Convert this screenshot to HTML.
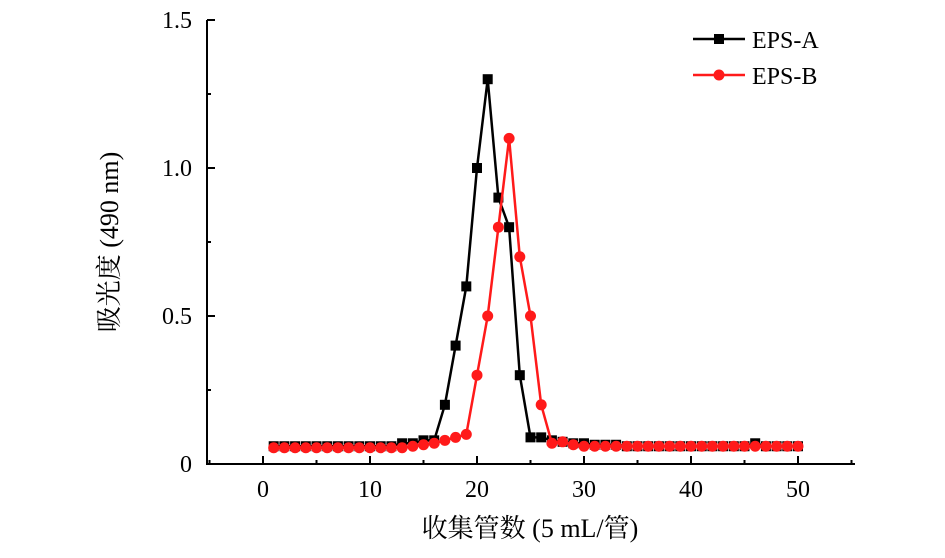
<!DOCTYPE html>
<html><head><meta charset="utf-8"><style>
body{margin:0;background:#fff}
svg text{font-family:"Liberation Serif","Noto Serif CJK SC",serif;font-size:24px;fill:#000}
svg text.ttl{font-size:26px}
</style></head><body>
<svg id="c" width="945" height="553"></svg>
<script>
const tubes=[];for(let i=1;i<=50;i++)tubes.push(i);
const epsA=[0.06,0.06,0.06,0.06,0.06,0.06,0.06,0.06,0.06,0.06,0.06,0.06,0.07,0.07,0.08,0.08,0.2,0.4,0.6,1.0,1.3,0.9,0.8,0.3,0.09,0.09,0.08,0.075,0.07,0.07,0.065,0.065,0.065,0.06,0.06,0.06,0.06,0.06,0.06,0.06,0.06,0.06,0.06,0.06,0.06,0.07,0.06,0.06,0.06,0.06];
const epsB=[0.055,0.055,0.055,0.055,0.055,0.055,0.055,0.055,0.055,0.055,0.055,0.055,0.055,0.06,0.065,0.07,0.08,0.09,0.1,0.3,0.5,0.8,1.1,0.7,0.5,0.2,0.07,0.075,0.065,0.06,0.06,0.06,0.06,0.06,0.06,0.06,0.06,0.06,0.06,0.06,0.06,0.06,0.06,0.06,0.06,0.06,0.06,0.06,0.06,0.06];
const xTicks=[0,10,20,30,40,50];
const yTicks=[0,0.5,1.0,1.5];
const yLabels=["0","0.5","1.0","1.5"];
const NS="http://www.w3.org/2000/svg",svg=document.getElementById('c');
const X=v=>263+(v)*10.7, Y=v=>464-v*296;
function mk(t,a,p){const e=document.createElementNS(NS,t);for(const k in a)e.setAttribute(k,a[k]);(p||svg).appendChild(e);return e;}
const ax=mk('g',{});


mk('path',{d:`M207,20 V464 H855`,fill:'none',stroke:'#000','stroke-width':2},ax);
for(let v=-5;v<=55;v+=5){const x=X(v);if(x<209||x>856)continue;mk('line',{x1:x,x2:x,y1:464,y2:v%10==0?456:460,stroke:'#000','stroke-width':2},ax);}
xTicks.forEach(v=>{const t=mk('text',{x:X(v),y:497,'text-anchor':'middle'},ax);t.textContent=v;

});
for(let v=0;v<=1.5001;v+=0.25){const y=Y(v);mk('line',{x1:207,x2:Math.abs(v*2-Math.round(v*2))<0.01?215:211,y1:y,y2:y,stroke:'#000','stroke-width':2},ax);}
yTicks.forEach((v,i)=>{const t=mk('text',{x:192,y:Y(v)+8,'text-anchor':'end'},ax);t.textContent=yLabels[i];

});
const xt=mk('text',{x:530,y:537,'text-anchor':'middle',class:'ttl'});xt.textContent='收集管数 (5 mL/管)';


const yt=mk('text',{x:0,y:0,'text-anchor':'middle',class:'ttl',transform:'translate(118,242) rotate(-90)'});yt.textContent='吸光度 (490 nm)';


function series(vals,color,marker,name){
 const g=mk('g',{});
 
 
 mk('polyline',{points:vals.map((v,i)=>X(tubes[i])+','+Y(v)).join(' '),fill:'none',stroke:color,'stroke-width':2.5,'stroke-linejoin':'round'},g);
 vals.forEach((v,i)=>{let m;if(marker=='sq')m=mk('rect',{x:X(tubes[i])-5,y:Y(v)-5,width:10,height:10,fill:color},g);else m=mk('circle',{cx:X(tubes[i]),cy:Y(v),r:5.5,fill:color},g);
 
 });
}
series(epsA,'#000','sq','series-eps-a');
series(epsB,'#ff1a1a','ci','series-eps-b');
const lg=mk('g',{});


mk('line',{x1:693,x2:745,y1:39,y2:39,stroke:'#000','stroke-width':2.5},lg);mk('rect',{x:714,y:34,width:10,height:10,fill:'#000'},lg);
let t=mk('text',{x:752,y:48},lg);t.textContent='EPS-A';
mk('line',{x1:693,x2:745,y1:75,y2:75,stroke:'#ff1a1a','stroke-width':2.5},lg);mk('circle',{cx:719,cy:75,r:5.5,fill:'#ff1a1a'},lg);
t=mk('text',{x:752,y:84},lg);t.textContent='EPS-B';
</script></body></html>
